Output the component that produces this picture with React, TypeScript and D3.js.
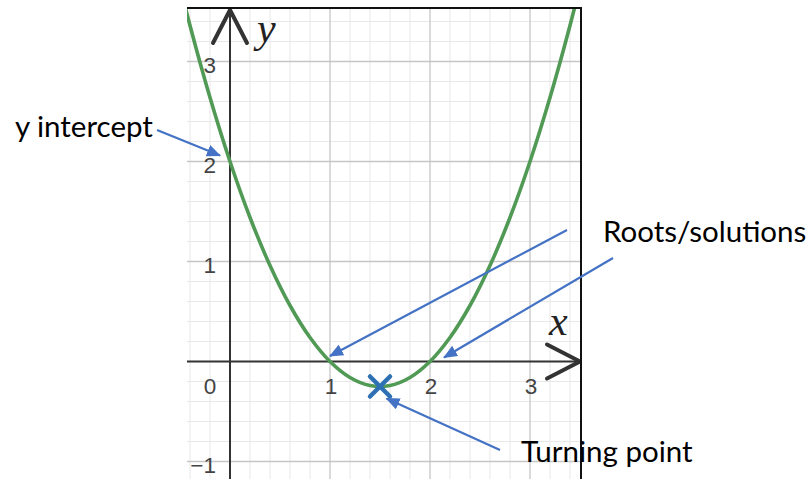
import React from "react";
import * as d3 from "d3";

// ---- data ----
const curveXs = [-0.6, -0.4, -0.2, 0, 0.2, 0.4, 0.6, 0.8, 1.0, 1.2, 1.4, 1.6, 1.8, 2.0, 2.2, 2.4, 2.6, 2.8, 3.0, 3.2, 3.4, 3.6];
const curveYs = [4.16, 3.36, 2.64, 2, 1.44, 0.96, 0.56, 0.24, 0, -0.16, -0.24, -0.24, -0.16, 0, 0.24, 0.56, 0.96, 1.44, 2, 2.64, 3.36, 4.16];
const xTickValues = [1, 2, 3];
const xTickLabels = ["1", "2", "3"];
const yTickValues = [-1, 1, 2, 3];
const yTickLabels = ["\u22121", "1", "2", "3"];
const originLabel = "0";
const turningPoint = [1.5, -0.25];
const annotationTexts = ["y intercept", "Roots/solutions", "Turning point"];

// ---- layout ----
const W = 807;
const H = 479;
const plot = { left: 187, right: 581, top: 8, bottom: 479 };

export default function App() {
  const x = d3.scaleLinear().domain([-0.43, 3.51]).range([plot.left, plot.right]);
  const y = d3.scaleLinear().domain([-1.175, 3.535]).range([plot.bottom, plot.top]);

  const minorX = d3.range(-0.4, 3.51, 0.2).map((v) => Math.round(v * 10) / 10).filter((v) => Math.abs(v - Math.round(v)) > 1e-6);
  const minorY = d3.range(-1.2, 3.6, 0.2).map((v) => Math.round(v * 10) / 10).filter((v) => Math.abs(v - Math.round(v)) > 1e-6);
  const majorX = [1, 2, 3];
  const majorY = [-1, 1, 2, 3];

  const pts = curveXs.map((cx, i) => [cx, curveYs[i]] as [number, number]);
  const line = d3
    .line<[number, number]>()
    .x((d) => x(d[0]))
    .y((d) => y(d[1]))
    .curve(d3.curveCatmullRom.alpha(0.5));

  const x0 = x(0);
  const y0 = y(0);
  const blue = "#4472C4";
  const tp = [x(turningPoint[0]), y(turningPoint[1])];

  const arrows = [
    { from: [157, 130], to: [x(-0.1), y(2.06)] },
    { from: [567, 230], to: [x(1.0), y(0.055)] },
    { from: [613, 258], to: [x(2.14), y(0.04)] },
    { from: [500, 450], to: [x(1.565), y(-0.37)] },
  ];

  return (
    <svg width={W} height={H} style={{ position: "absolute", left: 0, top: 0 }} xmlns="http://www.w3.org/2000/svg">
      <defs>
        <clipPath id="plotclip">
          <rect x={plot.left} y={plot.top} width={plot.right - plot.left} height={plot.bottom - plot.top} />
        </clipPath>
        <marker id="ah" viewBox="0 0 14 12" refX="13" refY="6" markerWidth="14" markerHeight="12" orient="auto" markerUnits="userSpaceOnUse">
          <path d="M0,0 L14,6 L0,12 z" fill={blue} />
        </marker>
      </defs>
      <rect width={W} height={H} fill="#fff" />
      <g clipPath="url(#plotclip)">
        {minorX.map((v) => (
          <line key={"mx" + v} x1={x(v)} x2={x(v)} y1={plot.top} y2={plot.bottom} stroke="#e8e8e8" strokeWidth={1} />
        ))}
        {minorY.map((v) => (
          <line key={"my" + v} y1={y(v)} y2={y(v)} x1={plot.left} x2={plot.right} stroke="#e8e8e8" strokeWidth={1} />
        ))}
        {majorX.map((v) => (
          <line key={"Mx" + v} x1={x(v)} x2={x(v)} y1={plot.top} y2={plot.bottom} stroke="#c6c6c6" strokeWidth={1.3} />
        ))}
        {majorY.map((v) => (
          <line key={"My" + v} y1={y(v)} y2={y(v)} x1={plot.left} x2={plot.right} stroke="#c6c6c6" strokeWidth={1.3} />
        ))}
        {/* axes */}
        <line x1={x0} x2={x0} y1={plot.top} y2={plot.bottom} stroke="#333" strokeWidth={2} />
        <line x1={plot.left} x2={plot.right} y1={y0} y2={y0} stroke="#333" strokeWidth={2} />
        {/* tick labels */}
        <g fontFamily="'Liberation Sans', Arial, sans-serif" fontSize={22.5} fill="#444">
          {xTickValues.map((v, i) => (
            <text key={"xt" + v} x={x(v) + 1} y={y0 + 32} textAnchor="middle">
              {xTickLabels[i]}
            </text>
          ))}
          {yTickValues.map((v, i) => (
            <text key={"yt" + v} x={x0 - 14} y={y(v) + 11} textAnchor="end">
              {yTickLabels[i]}
            </text>
          ))}
          <text x={x0 - 20} y={y0 + 32} textAnchor="middle">
            {originLabel}
          </text>
        </g>
        {/* curve */}
        <path d={line(pts) || ""} fill="none" stroke="#519a56" strokeWidth={3.6} />
      </g>
      {/* axis arrows */}
      <g stroke="#333" strokeWidth={4} fill="none" strokeLinecap="round" strokeLinejoin="round">
        <polyline points={`${x0 - 17},43 ${x0},10 ${x0 + 17},43`} />
        <polyline points={`${plot.right - 34},${y0 - 17} ${plot.right - 1},${y0} ${plot.right - 34},${y0 + 17}`} />
      </g>
      <g fontFamily="'Liberation Serif', 'Times New Roman', serif" fontStyle="italic" fontSize={42} fill="#222">
        <text x={257} y={42}>y</text>
        <text x={549} y={335}>x</text>
      </g>
      {/* frame */}
      <line x1={plot.left} x2={plot.right + 1} y1={plot.top} y2={plot.top} stroke="#111" strokeWidth={2} />
      <line x1={plot.right} x2={plot.right} y1={plot.top} y2={plot.bottom} stroke="#111" strokeWidth={2} />
      {/* turning point marker */}
      <g stroke="#2d70b3" strokeWidth={4.5} strokeLinecap="round">
        <line x1={tp[0] - 10} y1={tp[1] - 10} x2={tp[0] + 10} y2={tp[1] + 10} />
        <line x1={tp[0] - 10} y1={tp[1] + 10} x2={tp[0] + 10} y2={tp[1] - 10} />
      </g>
      {/* annotation arrows */}
      {arrows.map((a, i) => (
        <line key={"ar" + i} x1={a.from[0]} y1={a.from[1]} x2={a.to[0]} y2={a.to[1]} stroke={blue} strokeWidth={2.2} markerEnd="url(#ah)" />
      ))}
      {/* annotation texts */}
      <g fontFamily="Lato, 'Liberation Sans', sans-serif" fontSize={29.5} fill="#000">
        <text x={15} y={137}>{annotationTexts[0]}</text>
        <text x={603} y={242}>{annotationTexts[1]}</text>
        <text x={521} y={462}>{annotationTexts[2]}</text>
      </g>
    </svg>
  );
}
